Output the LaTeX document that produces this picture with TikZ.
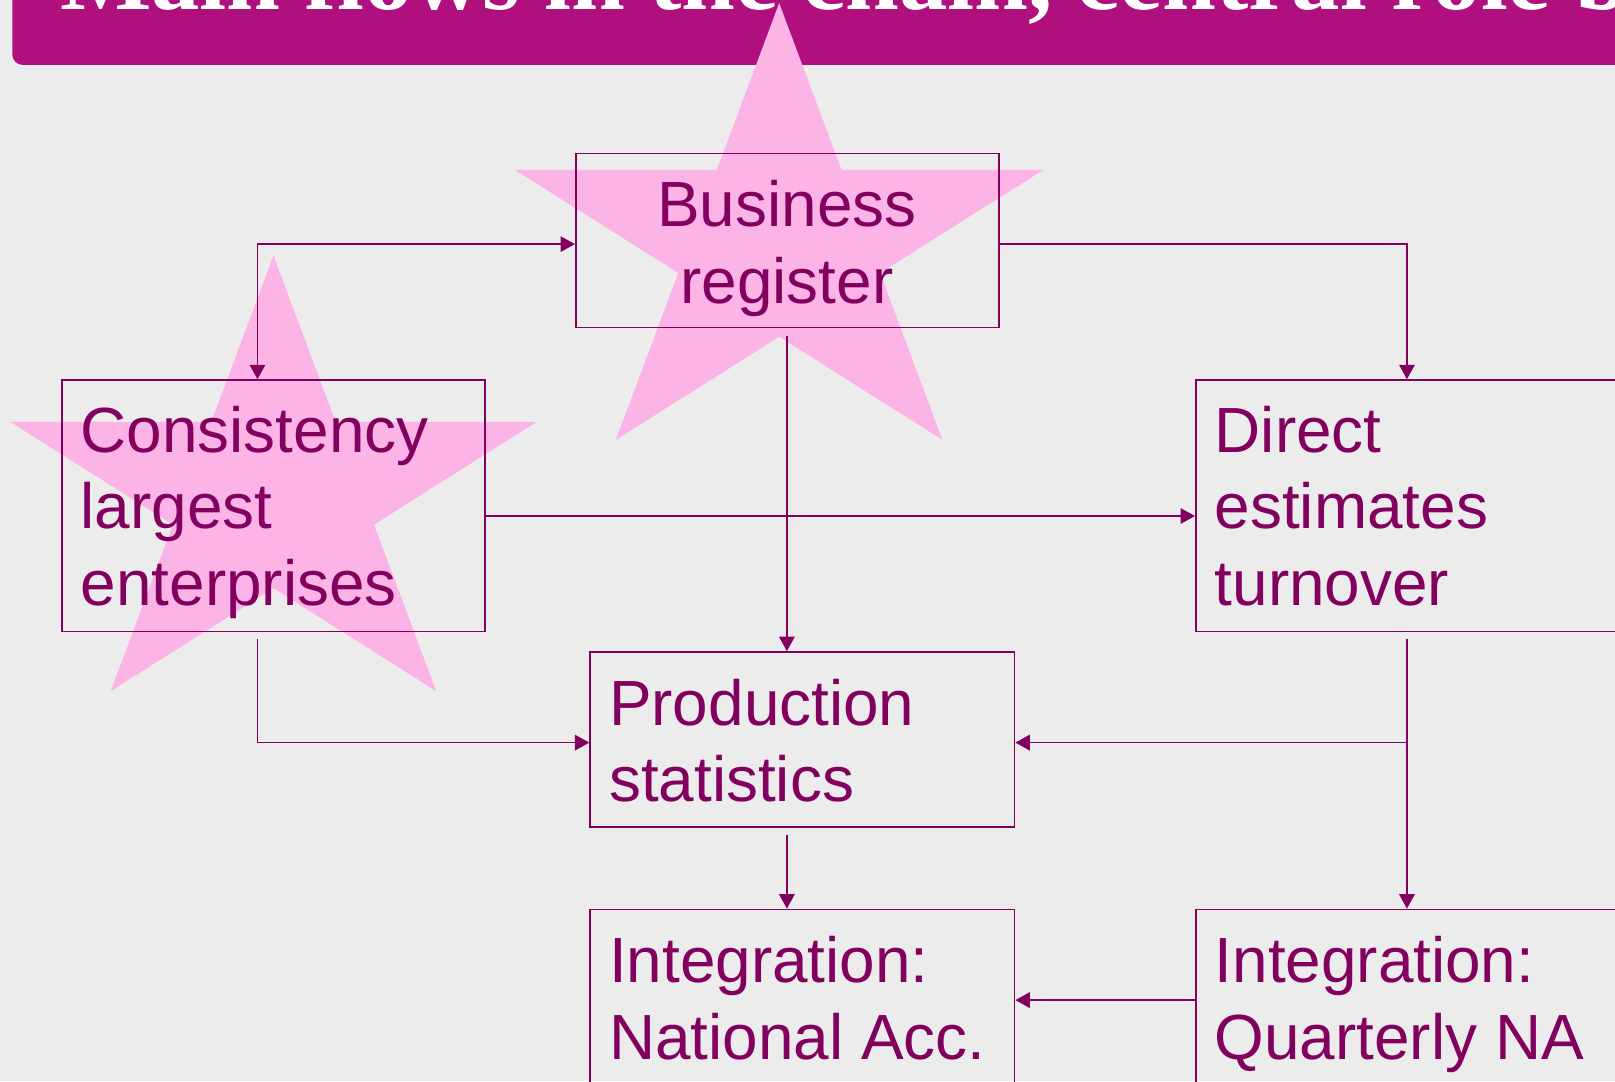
\documentclass[tikz,border=0pt]{standalone}
\usepackage{fontspec}
\setmainfont{Liberation Sans}
\newfontfamily\serifbold{Liberation Serif}
\usetikzlibrary{arrows.meta}
\definecolor{bgc}{HTML}{ECECEC}
\definecolor{hdr}{HTML}{B0107D}
\definecolor{starpink}{HTML}{FCB4E6}
\definecolor{ink}{HTML}{82005E}
\tikzset{
  x=0.5pt, y=-0.5pt,
  box/.style={draw=ink, line width=0.8pt, rectangle, inner sep=0pt, fill=none},
  lbl/.style={inner sep=0pt, text=ink, font=\fontsize{31}{37.25}\selectfont},
  arr/.style={draw=ink, line width=0.8pt, -{Triangle[length=7pt,width=7.5pt]}},
  biarr/.style={draw=ink, line width=0.8pt, {Triangle[length=7pt,width=7.5pt]}-{Triangle[length=7pt,width=7.5pt]}},
  gap/.style={shorten <=3.5pt}
}
\newcommand\mystar[4]{%
  \fill[starpink] plot[samples at={0,...,9}]
    ({#1+#3*(mod(\x,2)==0?1:0.381966)*cos(90+36*\x)},
     {#2-#4*(mod(\x,2)==0?1:0.381966)*sin(90+36*\x)}) -- cycle;}
\begin{document}
\begin{tikzpicture}
\useasboundingbox (0,0) rectangle (1568,1050);
\clip (0,0) rectangle (1568,1050);
\fill[bgc] (0,0) rectangle (1568,1050);
% header
\fill[hdr, rounded corners=5pt] (12,-200) rectangle (1800,63);
% stars
\mystar{756.5}{237.4}{269.7}{234.4}
\mystar{265.5}{481.8}{268.7}{233.8}
% title
\node[anchor=base west, inner sep=0pt, text=white, font=\serifbold\bfseries\fontsize{47}{50}\selectfont] (title) at (58,9) {Main flows in the chain, central role b};
% boxes
\node[box, minimum width=205.5pt, minimum height=84.5pt] (br) at (764.5,233.5) {};
\node[box, minimum width=205.5pt, minimum height=122pt] (cons) at (265.5,491) {};
\node[box, minimum width=229.5pt, minimum height=122pt] (dir) at (1390.5,491) {};
\node[box, minimum width=206pt, minimum height=85pt] (prod) at (779,718) {};
\node[box, minimum width=206pt, minimum height=98.5pt] (na) at (779,981.5) {};
\node[box, minimum width=229.5pt, minimum height=98.5pt] (qna) at (1390.5,981.5) {};
% labels
\node[lbl, anchor=base] (brt) at (764,220) {\parbox[t]{200pt}{\centering Business\\register}};
\node[lbl, anchor=base west] (const) at (78,439) {\parbox[t]{200pt}{\raggedright Consistency\\largest\\enterprises}};
\node[lbl, anchor=base west] (dirt) at (1179,439) {\parbox[t]{200pt}{\raggedright Direct\\estimates\\turnover}};
\node[lbl, anchor=base west] (prodt) at (591,704) {\parbox[t]{200pt}{\raggedright Production\\statistics}};
\node[lbl, anchor=base west] (nat) at (591,954) {\parbox[t]{200pt}{\raggedright Integration:\\National Acc.}};
\node[lbl, anchor=base west] (qnat) at (1179,954) {\parbox[t]{200pt}{\raggedright Integration:\\Quarterly NA}};
% helper coordinates
\coordinate (a1) at (250,237);
\coordinate (cx) at (764,0);
\coordinate (ry) at (0,501);
\coordinate (xq) at (1366,721);
\coordinate (qy) at (0,971);
% connectors
\draw[biarr] (cons.north -| a1) |- (br.west |- a1);
\draw[arr] (br.east |- a1) -| (dir.north -| xq);
\draw[arr, gap] (br.south -| cx) -- (prod.north -| cx);
\draw[arr] (cons.east |- ry) -- (dir.west |- ry);
\draw[arr, gap] (cons.south -| a1) |- (prod.west |- xq);
\draw[arr, gap] (dir.south -| xq) -- (qna.north -| xq);
\draw[arr] (xq) -- (prod.east |- xq);
\draw[arr, gap] (prod.south -| cx) -- (na.north -| cx);
\draw[arr] (qna.west |- qy) -- (na.east |- qy);
\end{tikzpicture}
\end{document}
